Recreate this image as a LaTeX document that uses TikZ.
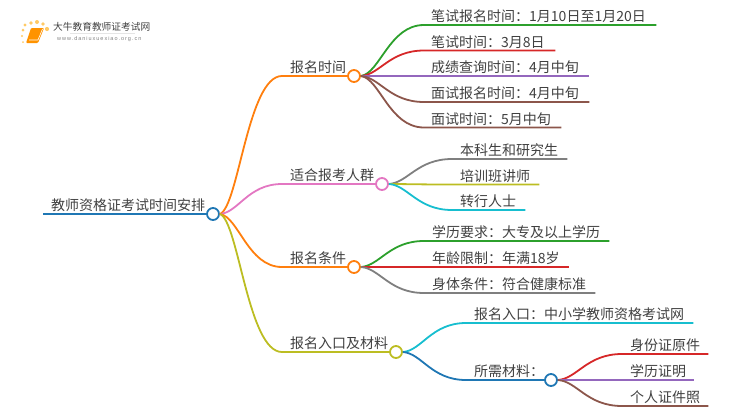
\documentclass[tikz,border=0pt]{standalone}
\usepackage{fontspec}
\setmainfont{Noto Sans CJK SC}
\newfontfamily\urlfont[LetterSpace=18]{Liberation Sans}
\usetikzlibrary{calc}
\definecolor{cOrange}{HTML}{FF7F0E}
\definecolor{cPink}{HTML}{E377C2}
\definecolor{cOlive}{HTML}{BCBD22}
\definecolor{cCyan}{HTML}{17BECF}
\definecolor{cBlue}{HTML}{1F77B4}
\definecolor{cGreen}{HTML}{2CA02C}
\definecolor{cRed}{HTML}{D62728}
\definecolor{cPurple}{HTML}{9467BD}
\definecolor{cBrown}{HTML}{8C564B}
\definecolor{cGray}{HTML}{7F7F7F}
\definecolor{cText}{HTML}{404040}
\tikzset{
  dotnode/.style={circle,draw=#1,fill=white,line width=1.8pt,minimum size=12pt,inner sep=0pt},
  leaf/.style={anchor=south west,inner sep=0pt,text depth=3.2pt,text=cText,font=\fontsize{14}{16}\selectfont},
  wire/.style={line width=1.8pt,draw=#1},
}
% name, x, y, end x, text x, text
\newcommand\leafat[6]{\node[leaf] (#1) at (#2,#3) {\makebox[\dimexpr #4pt-#2pt\relax][l]{\hspace*{\dimexpr #5pt-#2pt\relax}#6}};}
% from, to, finish, colour
\newcommand\conn[4]{\draw[wire=#4] let \p1=(#1),\p2=(#2) in (#1) .. controls ({0.7*\x1+0.3*\x2},{0.95*\y1+0.05*\y2}) and ({0.55*\x1+0.45*\x2},\y2) .. (#2) -- (#3);}
\begin{document}
\begin{tikzpicture}[x=1pt,y=-1pt]
\useasboundingbox (0,0) rectangle (750,410);
% logo
\foreach \px/\py/\r in {23/30/1.5,25/25/1.7,31/23/1.9,37/22/2,43/24/1.9,47/29/2.1,22/36/1.2,23/42/1}
  \fill[orange!70!yellow,opacity=.6] (\px,\py) circle (\r);
\fill[orange!85!yellow,rounded corners=1pt] (31,28) -- (44,28) -- (38,43) -- (26,43) -- cycle;
\draw[white,line width=.6pt] (29,40) -- (38,40) -- (42.5,29);
\draw[black!10,line width=.8pt] (70,33.5) -- (135,33.5);
\node[anchor=west,inner sep=0pt,text=cText,font=\fontsize{9.7}{11}\selectfont] (logotext) at (53,27) {大牛教育教师证考试网};
\node[anchor=west,inner sep=0pt,text=black!50,font=\fontsize{5.5}{7}\urlfont] (logourl) at (57,39) {www.daniuxuexiao.org.cn};
% dots
\node[dotnode=cBlue] (root) at (213,214) {};
\node[dotnode=cOrange] (d1) at (354,76) {};
\node[dotnode=cPink] (d2) at (382,184) {};
\node[dotnode=cOrange] (d3) at (354,267) {};
\node[dotnode=cOlive] (d4) at (396,352) {};
\node[dotnode=cBlue] (d5) at (551,380) {};
% root
\leafat{rt}{43}{214}{207}{51}{教师资格证考试时间安排}
\draw[wire=cBlue] (rt.south west) -- (root.west);
% main branches
\leafat{b1}{282}{76}{348}{290}{报名时间}
\leafat{b2}{282}{184}{376}{290}{适合报考人群}
\leafat{b3}{282}{267}{348}{290}{报名条件}
\leafat{b4}{282}{352}{390}{290}{报名入口及材料}
\conn{root.east}{b1.south west}{d1.west}{cOrange}
\conn{root.east}{b2.south west}{d2.west}{cPink}
\conn{root.east}{b3.south west}{d3.west}{cOrange}
\conn{root.east}{b4.south west}{d4.west}{cOlive}
% leaves group 1
\leafat{a1}{424}{25}{656}{431}{笔试报名时间：1月10日至1月20日}
\leafat{a2}{424}{50.5}{555}{431}{笔试时间：3月8日}
\leafat{a3}{424}{76}{589}{431}{成绩查询时间：4月中旬}
\leafat{a4}{424}{102}{589}{431}{面试报名时间：4月中旬}
\leafat{a5}{424}{127.5}{561}{431}{面试时间：5月中旬}
\conn{d1.east}{a1.south west}{a1.south east}{cGreen}
\conn{d1.east}{a2.south west}{a2.south east}{cRed}
\conn{d1.east}{a3.south west}{a3.south east}{cPurple}
\conn{d1.east}{a4.south west}{a4.south east}{cBrown}
\conn{d1.east}{a5.south west}{a5.south east}{cBrown}
% leaves group 2
\leafat{e1}{452}{159}{567}{460}{本科生和研究生}
\leafat{e2}{452}{184.5}{539}{460}{培训班讲师}
\leafat{e3}{452}{210}{525}{460}{转行人士}
\conn{d2.east}{e1.south west}{e1.south east}{cGray}
\conn{d2.east}{e2.south west}{e2.south east}{cOlive}
\conn{d2.east}{e3.south west}{e3.south east}{cCyan}
% leaves group 3
\leafat{f1}{424}{241}{609}{432}{学历要求：大专及以上学历}
\leafat{f2}{424}{267}{569}{432}{年龄限制：年满18岁}
\leafat{f3}{424}{293}{595}{432}{身体条件：符合健康标准}
\conn{d3.east}{f1.south west}{f1.south east}{cGreen}
\conn{d3.east}{f2.south west}{f2.south east}{cRed}
\conn{d3.east}{f3.south west}{f3.south east}{cGray}
% leaves group 4
\leafat{g1}{466}{323}{693}{474}{报名入口：中小学教师资格考试网}
\leafat{g2}{466}{380}{545}{474}{所需材料：}
\conn{d4.east}{g1.south west}{g1.south east}{cCyan}
\conn{d4.east}{g2.south west}{d5.west}{cBlue}
% leaves group 5
\leafat{h1}{622}{354}{708}{630}{身份证原件}
\leafat{h2}{622}{380}{694}{630}{学历证明}
\leafat{h3}{622}{406}{708}{630}{个人证件照}
\conn{d5.east}{h1.south west}{h1.south east}{cRed}
\conn{d5.east}{h2.south west}{h2.south east}{cPurple}
\conn{d5.east}{h3.south west}{h3.south east}{cBrown}
\end{tikzpicture}
\end{document}
